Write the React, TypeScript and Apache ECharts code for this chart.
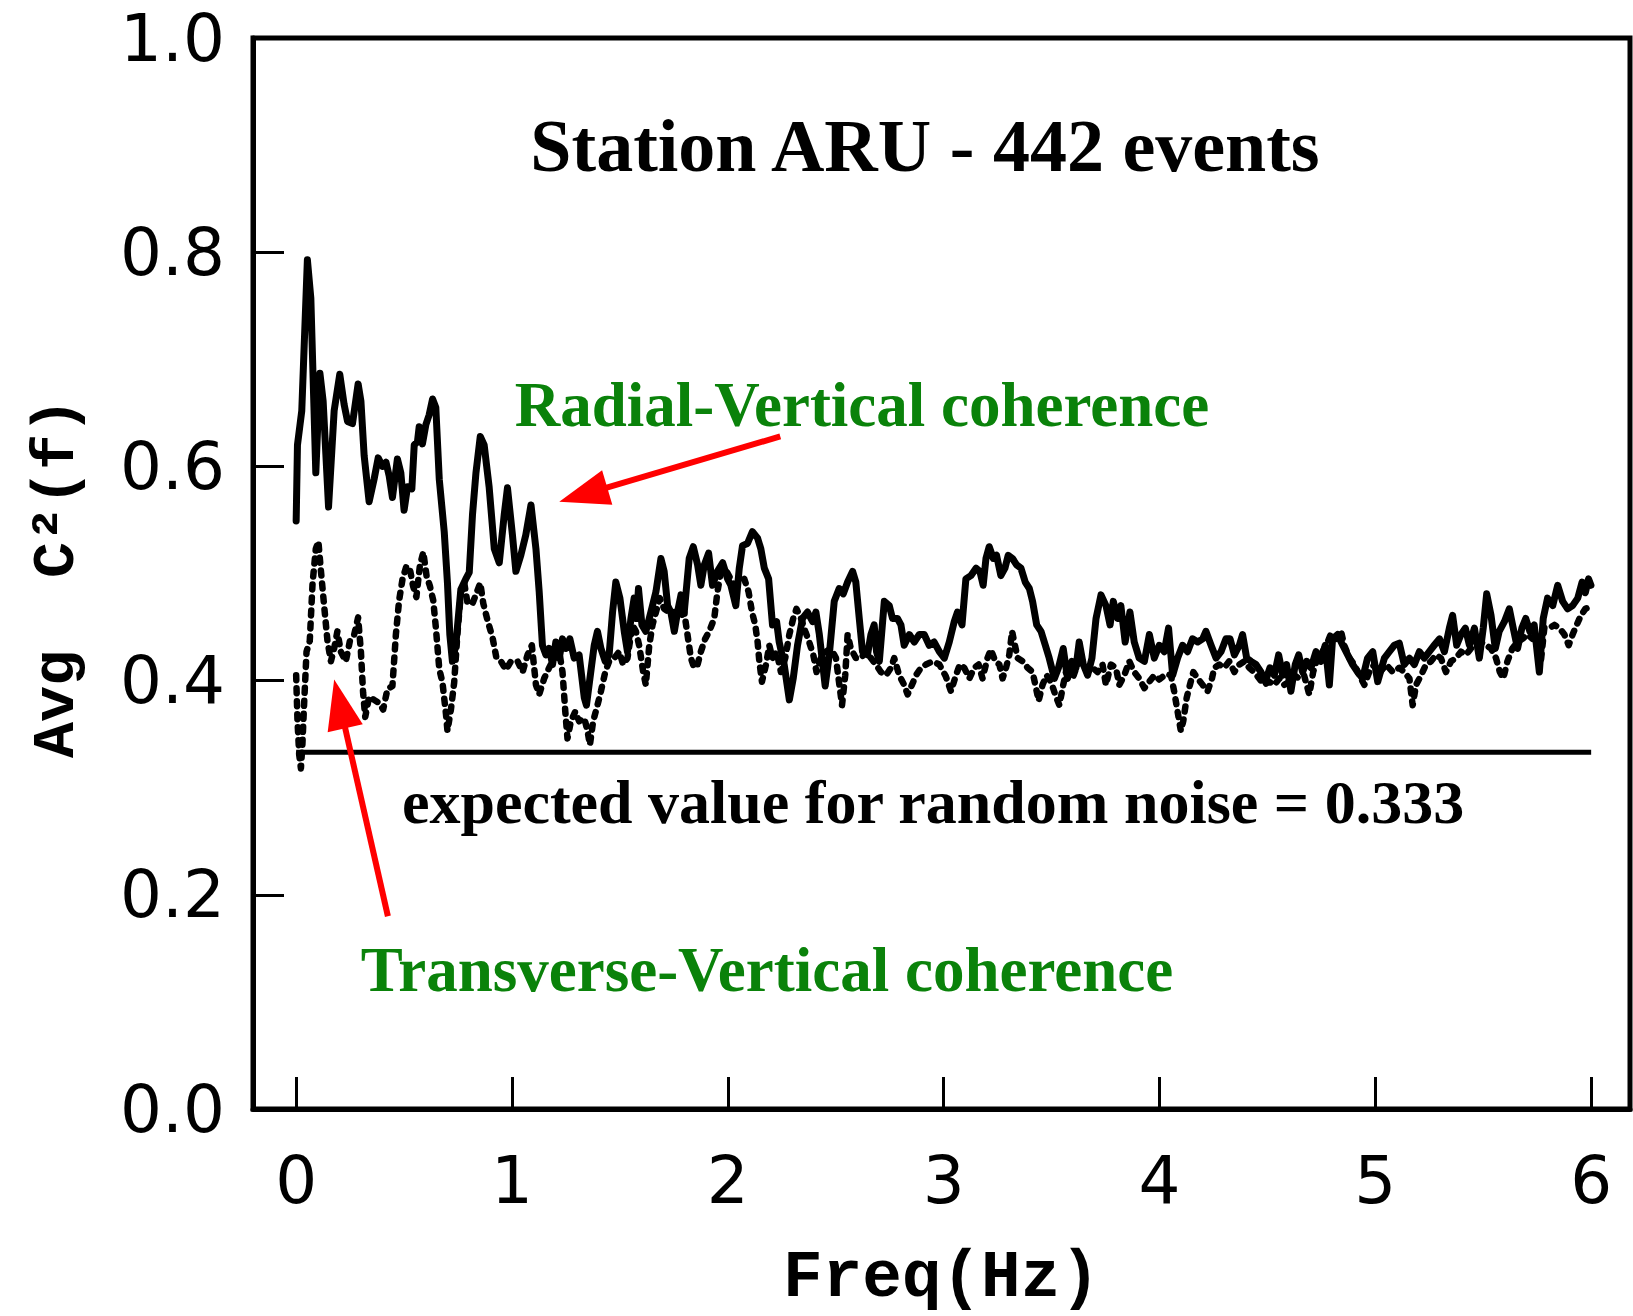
import React, { useEffect, useRef } from "react";
import * as echarts from "echarts";

const xTicks = [0, 1, 2, 3, 4, 5, 6];
const yTickStep = 0.2;
const noiseLevel = 0.333;

const radial: [number, number][] = [
  [0.0, 0.549], [0.006, 0.62], [0.026, 0.652], [0.052, 0.793], [0.068, 0.757], [0.091, 0.594], [0.11, 0.687], [0.125, 0.661],
  [0.15, 0.562], [0.176, 0.652], [0.202, 0.686], [0.222, 0.658], [0.238, 0.642], [0.261, 0.64], [0.287, 0.677], [0.3, 0.661],
  [0.315, 0.61], [0.338, 0.567], [0.361, 0.588], [0.38, 0.608], [0.4, 0.6], [0.416, 0.604], [0.431, 0.591], [0.446, 0.571],
  [0.469, 0.607], [0.485, 0.594], [0.5, 0.559], [0.516, 0.581], [0.536, 0.579], [0.547, 0.62], [0.562, 0.623], [0.57, 0.637],
  [0.585, 0.621], [0.601, 0.639], [0.616, 0.648], [0.632, 0.663], [0.647, 0.655], [0.663, 0.588], [0.686, 0.539], [0.701, 0.491],
  [0.712, 0.443], [0.724, 0.418], [0.74, 0.434], [0.763, 0.485], [0.786, 0.495], [0.802, 0.501], [0.817, 0.555], [0.833, 0.594],
  [0.853, 0.628], [0.871, 0.62], [0.894, 0.581], [0.918, 0.523], [0.941, 0.51], [0.964, 0.555], [0.979, 0.58], [1.002, 0.536],
  [1.018, 0.502], [1.041, 0.517], [1.064, 0.536], [1.088, 0.564], [1.111, 0.523], [1.126, 0.483], [1.141, 0.433], [1.157, 0.424],
  [1.172, 0.43], [1.188, 0.415], [1.203, 0.436], [1.219, 0.421], [1.234, 0.439], [1.25, 0.43], [1.268, 0.439], [1.288, 0.421],
  [1.311, 0.424], [1.335, 0.384], [1.345, 0.377], [1.361, 0.402], [1.381, 0.433], [1.396, 0.446], [1.412, 0.43], [1.432, 0.418],
  [1.45, 0.424], [1.466, 0.464], [1.481, 0.492], [1.5, 0.477], [1.52, 0.446], [1.535, 0.427], [1.551, 0.458], [1.566, 0.477],
  [1.577, 0.458], [1.586, 0.486], [1.602, 0.452], [1.62, 0.446], [1.636, 0.458], [1.651, 0.47], [1.667, 0.483], [1.69, 0.514],
  [1.705, 0.502], [1.721, 0.47], [1.736, 0.464], [1.752, 0.446], [1.767, 0.464], [1.783, 0.48], [1.798, 0.464], [1.821, 0.514],
  [1.84, 0.525], [1.86, 0.508], [1.875, 0.489], [1.891, 0.508], [1.911, 0.519], [1.929, 0.489], [1.952, 0.502], [1.976, 0.51],
  [1.999, 0.495], [2.014, 0.489], [2.037, 0.47], [2.053, 0.505], [2.068, 0.526], [2.091, 0.528], [2.114, 0.539], [2.138, 0.533],
  [2.153, 0.523], [2.169, 0.505], [2.189, 0.495], [2.207, 0.452], [2.226, 0.455], [2.238, 0.436], [2.261, 0.415], [2.285, 0.382],
  [2.303, 0.402], [2.323, 0.433], [2.346, 0.458], [2.369, 0.464], [2.393, 0.455], [2.408, 0.464], [2.424, 0.443], [2.451, 0.395],
  [2.47, 0.424], [2.493, 0.474], [2.516, 0.486], [2.535, 0.481], [2.555, 0.492], [2.578, 0.502], [2.593, 0.492], [2.609, 0.458],
  [2.624, 0.427], [2.647, 0.424], [2.663, 0.443], [2.678, 0.452], [2.689, 0.427], [2.702, 0.418], [2.725, 0.474], [2.748, 0.47],
  [2.763, 0.458], [2.786, 0.458], [2.802, 0.452], [2.817, 0.433], [2.841, 0.443], [2.864, 0.436], [2.887, 0.443], [2.91, 0.443],
  [2.933, 0.433], [2.956, 0.436], [2.98, 0.427], [3.003, 0.421], [3.026, 0.436], [3.049, 0.455], [3.064, 0.464], [3.085, 0.452],
  [3.103, 0.495], [3.126, 0.498], [3.15, 0.505], [3.168, 0.502], [3.183, 0.489], [3.196, 0.514], [3.211, 0.525], [3.23, 0.514],
  [3.245, 0.517], [3.265, 0.498], [3.284, 0.505], [3.299, 0.517], [3.319, 0.514], [3.338, 0.508], [3.358, 0.505], [3.378, 0.492],
  [3.397, 0.486], [3.412, 0.474], [3.431, 0.452], [3.451, 0.446], [3.471, 0.433], [3.489, 0.421], [3.513, 0.402], [3.532, 0.412],
  [3.554, 0.43], [3.574, 0.402], [3.594, 0.418], [3.613, 0.412], [3.628, 0.436], [3.647, 0.415], [3.667, 0.405], [3.687, 0.421],
  [3.706, 0.458], [3.729, 0.48], [3.752, 0.47], [3.771, 0.452], [3.786, 0.474], [3.806, 0.458], [3.821, 0.47], [3.841, 0.436],
  [3.863, 0.464], [3.883, 0.436], [3.906, 0.421], [3.93, 0.418], [3.953, 0.443], [3.976, 0.421], [3.999, 0.433], [4.022, 0.427],
  [4.042, 0.449], [4.061, 0.405], [4.084, 0.421], [4.107, 0.433], [4.13, 0.427], [4.153, 0.439], [4.177, 0.436], [4.2, 0.439],
  [4.215, 0.446], [4.239, 0.433], [4.262, 0.421], [4.285, 0.427], [4.308, 0.439], [4.327, 0.439], [4.347, 0.424], [4.37, 0.433],
  [4.385, 0.443], [4.404, 0.421], [4.424, 0.418], [4.447, 0.415], [4.47, 0.408], [4.49, 0.399], [4.512, 0.412], [4.532, 0.405],
  [4.552, 0.424], [4.571, 0.405], [4.589, 0.415], [4.609, 0.39], [4.629, 0.415], [4.645, 0.424], [4.663, 0.408], [4.682, 0.418],
  [4.702, 0.412], [4.725, 0.427], [4.748, 0.418], [4.768, 0.433], [4.787, 0.396], [4.802, 0.439], [4.825, 0.443], [4.849, 0.433],
  [4.872, 0.424], [4.895, 0.415], [4.918, 0.408], [4.941, 0.402], [4.964, 0.421], [4.988, 0.427], [5.011, 0.399], [5.042, 0.421],
  [5.065, 0.427], [5.088, 0.433], [5.111, 0.435], [5.134, 0.415], [5.158, 0.421], [5.181, 0.415], [5.204, 0.427], [5.227, 0.421],
  [5.25, 0.427], [5.273, 0.433], [5.297, 0.439], [5.32, 0.427], [5.343, 0.449], [5.358, 0.461], [5.377, 0.433], [5.397, 0.443],
  [5.417, 0.449], [5.436, 0.433], [5.459, 0.449], [5.482, 0.421], [5.5, 0.449], [5.516, 0.481], [5.536, 0.461], [5.556, 0.43],
  [5.574, 0.446], [5.598, 0.455], [5.621, 0.467], [5.639, 0.449], [5.659, 0.43], [5.679, 0.449], [5.697, 0.458], [5.716, 0.446],
  [5.736, 0.452], [5.76, 0.408], [5.778, 0.458], [5.798, 0.477], [5.822, 0.47], [5.845, 0.489], [5.868, 0.474], [5.891, 0.467],
  [5.914, 0.47], [5.938, 0.477], [5.958, 0.492], [5.973, 0.482], [5.988, 0.495], [5.999, 0.489],
];

const transverse: [number, number][] = [
  [0.0, 0.405], [0.006, 0.363], [0.014, 0.331], [0.022, 0.318], [0.029, 0.341], [0.037, 0.379], [0.048, 0.427], [0.063, 0.437],
  [0.076, 0.491], [0.091, 0.523], [0.103, 0.53], [0.114, 0.504], [0.13, 0.469], [0.145, 0.437], [0.161, 0.418], [0.176, 0.43],
  [0.191, 0.446], [0.207, 0.427], [0.23, 0.418], [0.249, 0.437], [0.269, 0.443], [0.287, 0.459], [0.3, 0.427], [0.31, 0.389],
  [0.32, 0.366], [0.338, 0.385], [0.361, 0.382], [0.385, 0.379], [0.403, 0.373], [0.423, 0.392], [0.446, 0.395], [0.462, 0.443],
  [0.477, 0.475], [0.493, 0.495], [0.511, 0.507], [0.527, 0.504], [0.542, 0.488], [0.557, 0.478], [0.573, 0.507], [0.589, 0.52],
  [0.604, 0.498], [0.62, 0.488], [0.635, 0.475], [0.647, 0.45], [0.663, 0.411], [0.678, 0.398], [0.694, 0.369], [0.701, 0.353],
  [0.717, 0.373], [0.732, 0.398], [0.747, 0.443], [0.763, 0.482], [0.779, 0.491], [0.794, 0.472], [0.817, 0.472], [0.836, 0.482],
  [0.853, 0.491], [0.867, 0.472], [0.887, 0.456], [0.91, 0.44], [0.928, 0.421], [0.949, 0.418], [0.972, 0.41], [0.995, 0.418],
  [1.026, 0.418], [1.049, 0.408], [1.072, 0.424], [1.092, 0.433], [1.111, 0.396], [1.126, 0.387], [1.149, 0.402], [1.172, 0.412],
  [1.196, 0.421], [1.219, 0.427], [1.234, 0.408], [1.247, 0.371], [1.257, 0.346], [1.273, 0.362], [1.293, 0.371], [1.311, 0.362],
  [1.335, 0.365], [1.35, 0.353], [1.361, 0.34], [1.376, 0.362], [1.396, 0.377], [1.412, 0.39], [1.432, 0.408], [1.45, 0.418],
  [1.474, 0.421], [1.497, 0.427], [1.515, 0.415], [1.535, 0.421], [1.558, 0.452], [1.574, 0.446], [1.589, 0.433], [1.608, 0.408],
  [1.62, 0.396], [1.636, 0.433], [1.651, 0.452], [1.667, 0.464], [1.685, 0.477], [1.705, 0.467], [1.728, 0.464], [1.752, 0.464],
  [1.775, 0.458], [1.798, 0.464], [1.813, 0.443], [1.829, 0.421], [1.844, 0.412], [1.86, 0.415], [1.875, 0.427], [1.895, 0.439],
  [1.914, 0.446], [1.937, 0.458], [1.952, 0.483], [1.968, 0.502], [1.991, 0.503], [2.03, 0.489], [2.053, 0.492], [2.076, 0.495],
  [2.096, 0.483], [2.112, 0.464], [2.127, 0.452], [2.138, 0.436], [2.146, 0.418], [2.158, 0.399], [2.177, 0.415], [2.192, 0.433],
  [2.207, 0.421], [2.226, 0.427], [2.246, 0.408], [2.266, 0.421], [2.285, 0.443], [2.303, 0.458], [2.318, 0.467], [2.339, 0.458],
  [2.359, 0.446], [2.377, 0.436], [2.396, 0.424], [2.411, 0.408], [2.431, 0.421], [2.454, 0.427], [2.478, 0.43], [2.501, 0.421],
  [2.513, 0.402], [2.529, 0.377], [2.544, 0.405], [2.555, 0.443], [2.57, 0.43], [2.593, 0.421], [2.617, 0.421], [2.64, 0.427],
  [2.663, 0.421], [2.686, 0.415], [2.709, 0.408], [2.733, 0.405], [2.756, 0.412], [2.771, 0.421], [2.794, 0.405], [2.817, 0.396],
  [2.833, 0.387], [2.853, 0.396], [2.872, 0.405], [2.895, 0.412], [2.918, 0.415], [2.949, 0.418], [2.98, 0.415], [3.01, 0.404],
  [3.034, 0.39], [3.057, 0.405], [3.075, 0.415], [3.095, 0.412], [3.119, 0.402], [3.142, 0.412], [3.162, 0.415], [3.18, 0.402],
  [3.203, 0.421], [3.219, 0.429], [3.239, 0.418], [3.258, 0.415], [3.273, 0.402], [3.289, 0.412], [3.304, 0.424], [3.317, 0.446],
  [3.327, 0.436], [3.343, 0.421], [3.366, 0.418], [3.389, 0.412], [3.412, 0.408], [3.428, 0.393], [3.44, 0.381], [3.458, 0.396],
  [3.477, 0.405], [3.497, 0.399], [3.517, 0.387], [3.536, 0.377], [3.554, 0.396], [3.574, 0.415], [3.597, 0.402], [3.62, 0.415],
  [3.644, 0.418], [3.667, 0.408], [3.69, 0.412], [3.713, 0.408], [3.736, 0.415], [3.752, 0.396], [3.775, 0.415], [3.798, 0.412],
  [3.814, 0.396], [3.837, 0.405], [3.86, 0.418], [3.883, 0.408], [3.906, 0.402], [3.93, 0.393], [3.953, 0.399], [3.976, 0.405],
  [3.999, 0.401], [4.03, 0.406], [4.053, 0.405], [4.068, 0.39], [4.084, 0.371], [4.099, 0.353], [4.11, 0.362], [4.126, 0.384],
  [4.141, 0.396], [4.157, 0.408], [4.177, 0.402], [4.2, 0.396], [4.223, 0.39], [4.243, 0.402], [4.254, 0.412], [4.277, 0.415],
  [4.3, 0.412], [4.323, 0.418], [4.347, 0.408], [4.37, 0.415], [4.393, 0.418], [4.416, 0.412], [4.439, 0.408], [4.462, 0.402],
  [4.485, 0.396], [4.508, 0.399], [4.532, 0.396], [4.555, 0.402], [4.578, 0.396], [4.601, 0.399], [4.624, 0.405], [4.647, 0.402],
  [4.67, 0.405], [4.694, 0.387], [4.712, 0.408], [4.732, 0.421], [4.755, 0.427], [4.779, 0.436], [4.795, 0.444], [4.818, 0.439],
  [4.841, 0.446], [4.856, 0.433], [4.88, 0.421], [4.903, 0.415], [4.926, 0.405], [4.949, 0.396], [4.972, 0.408], [4.995, 0.415],
  [5.019, 0.407], [5.05, 0.415], [5.081, 0.408], [5.111, 0.412], [5.134, 0.408], [5.158, 0.402], [5.173, 0.377], [5.189, 0.396],
  [5.212, 0.405], [5.235, 0.415], [5.258, 0.418], [5.281, 0.424], [5.304, 0.421], [5.327, 0.408], [5.351, 0.418], [5.374, 0.421],
  [5.397, 0.427], [5.42, 0.424], [5.443, 0.43], [5.466, 0.433], [5.49, 0.436], [5.513, 0.433], [5.536, 0.43], [5.559, 0.421],
  [5.577, 0.408], [5.593, 0.402], [5.612, 0.418], [5.635, 0.43], [5.659, 0.436], [5.682, 0.439], [5.705, 0.443], [5.728, 0.439],
  [5.751, 0.443], [5.767, 0.418], [5.783, 0.449], [5.807, 0.449], [5.83, 0.452], [5.853, 0.449], [5.876, 0.443], [5.896, 0.433],
  [5.914, 0.443], [5.933, 0.452], [5.953, 0.461], [5.973, 0.467], [5.999, 0.469],
];

const noiseLine: [number, number][] = [[0, noiseLevel], [6, noiseLevel]];

// arrows: [tail, tip] in data coordinates
const radialArrow: [number, number][] = [[2.243, 0.628], [1.219, 0.567]];
const transArrow: [number, number][] = [[0.425, 0.18], [0.176, 0.401]];

const MONO = '"Liberation Mono", "Courier New", monospace';
const SANS = '"DejaVu Sans", sans-serif';
const SERIF = '"Liberation Serif", "Times New Roman", serif';
const GREEN = "#0a820a";
const RED = "#ff0000";

export default function App() {
  const ref = useRef<HTMLDivElement>(null);
  useEffect(() => {
    if (!ref.current) return;
    const chart = echarts.init(ref.current, undefined, { renderer: "svg" });
    const option: any = {
      animation: false,
      backgroundColor: "#ffffff",
      grid: {
        left: 253, right: 3, top: 38, bottom: 204,
        show: true, borderColor: "#000", borderWidth: 5, backgroundColor: "transparent",
      },
      xAxis: {
        type: "value", min: -0.2, max: 6.18,
        axisLine: { show: true, onZero: false, lineStyle: { color: "#000", width: 5 } },
        axisTick: { show: true, inside: true, length: 32, customValues: xTicks, lineStyle: { color: "#000", width: 3 } },
        axisLabel: {
          customValues: xTicks, margin: 38, color: "#000",
          fontFamily: SANS, fontSize: 66, fontWeight: "normal",
        },
        splitLine: { show: false },
        name: "Freq(Hz)", nameLocation: "middle", nameGap: 136,
        nameTextStyle: { color: "#000", fontFamily: MONO, fontSize: 66, fontWeight: "bold" },
      },
      yAxis: {
        type: "value", min: 0, max: 1, interval: yTickStep,
        axisLine: { show: true, onZero: false, lineStyle: { color: "#000", width: 5 } },
        axisTick: { show: true, inside: true, length: 31, lineStyle: { color: "#000", width: 3 } },
        axisLabel: {
          margin: 28, color: "#000", fontFamily: SANS, fontSize: 66, fontWeight: "normal",
          formatter: (v: number) => v.toFixed(1),
        },
        splitLine: { show: false },
      },
      series: [
        {
          name: "Radial-Vertical", type: "line", data: radial, showSymbol: false, z: 4,
          lineStyle: { color: "#000", width: 7, join: "round", cap: "round" },
        },
        {
          name: "Transverse-Vertical", type: "line", data: transverse, showSymbol: false, z: 3,
          lineStyle: { color: "#000", width: 6.5, type: [5, 8], cap: "round", join: "round" },
        },
        {
          name: "noise", type: "line", data: noiseLine, showSymbol: false, z: 2,
          lineStyle: { color: "#000", width: 5 },
        },
      ],
    };
    chart.setOption(option);

    const arrowGraphics = (pts: [number, number][]) => {
      const a = chart.convertToPixel({ gridIndex: 0 }, pts[0]) as number[];
      const t = chart.convertToPixel({ gridIndex: 0 }, pts[1]) as number[];
      const dx = t[0] - a[0], dy = t[1] - a[1];
      const len = Math.hypot(dx, dy);
      const ux = dx / len, uy = dy / len;
      const headL = 50, headW = 36;
      const bx = t[0] - ux * headL, by = t[1] - uy * headL;
      const nx = -uy, ny = ux;
      return [
        {
          type: "line", silent: true, z: 10,
          shape: { x1: a[0], y1: a[1], x2: bx + ux * 4, y2: by + uy * 4 },
          style: { stroke: RED, lineWidth: 6 },
        },
        {
          type: "polygon", silent: true, z: 10,
          shape: { points: [[t[0], t[1]], [bx + nx * headW / 2, by + ny * headW / 2], [bx - nx * headW / 2, by - ny * headW / 2]] },
          style: { fill: RED },
        },
      ];
    };

    const textEl = (text: string, x: number, y: number, fill: string, size: number, family: string, rotation = 0) => ({
      type: "text", x, y, rotation, silent: true, z: 10,
      style: { text, fill, fontFamily: family, fontSize: size, fontWeight: "bold", align: "center", verticalAlign: "middle" },
    });

    chart.setOption({
      graphic: [
        textEl("Station ARU - 442 events", 925, 146, "#000", 74, SERIF),
        textEl("Radial-Vertical coherence", 862, 405, GREEN, 63, SERIF),
        textEl("Transverse-Vertical coherence", 767, 970, GREEN, 63, SERIF),
        textEl("expected value for random noise = 0.333", 933, 802, "#000", 62, SERIF),
        textEl("Avg  C²(f)", 57, 578, "#000", 60, MONO, Math.PI / 2),
        ...arrowGraphics(radialArrow),
        ...arrowGraphics(transArrow),
      ],
    });

    return () => chart.dispose();
  }, []);
  return <div ref={ref} style={{ position: "absolute", left: 0, top: 0, width: 1633, height: 1316 }} />;
}
